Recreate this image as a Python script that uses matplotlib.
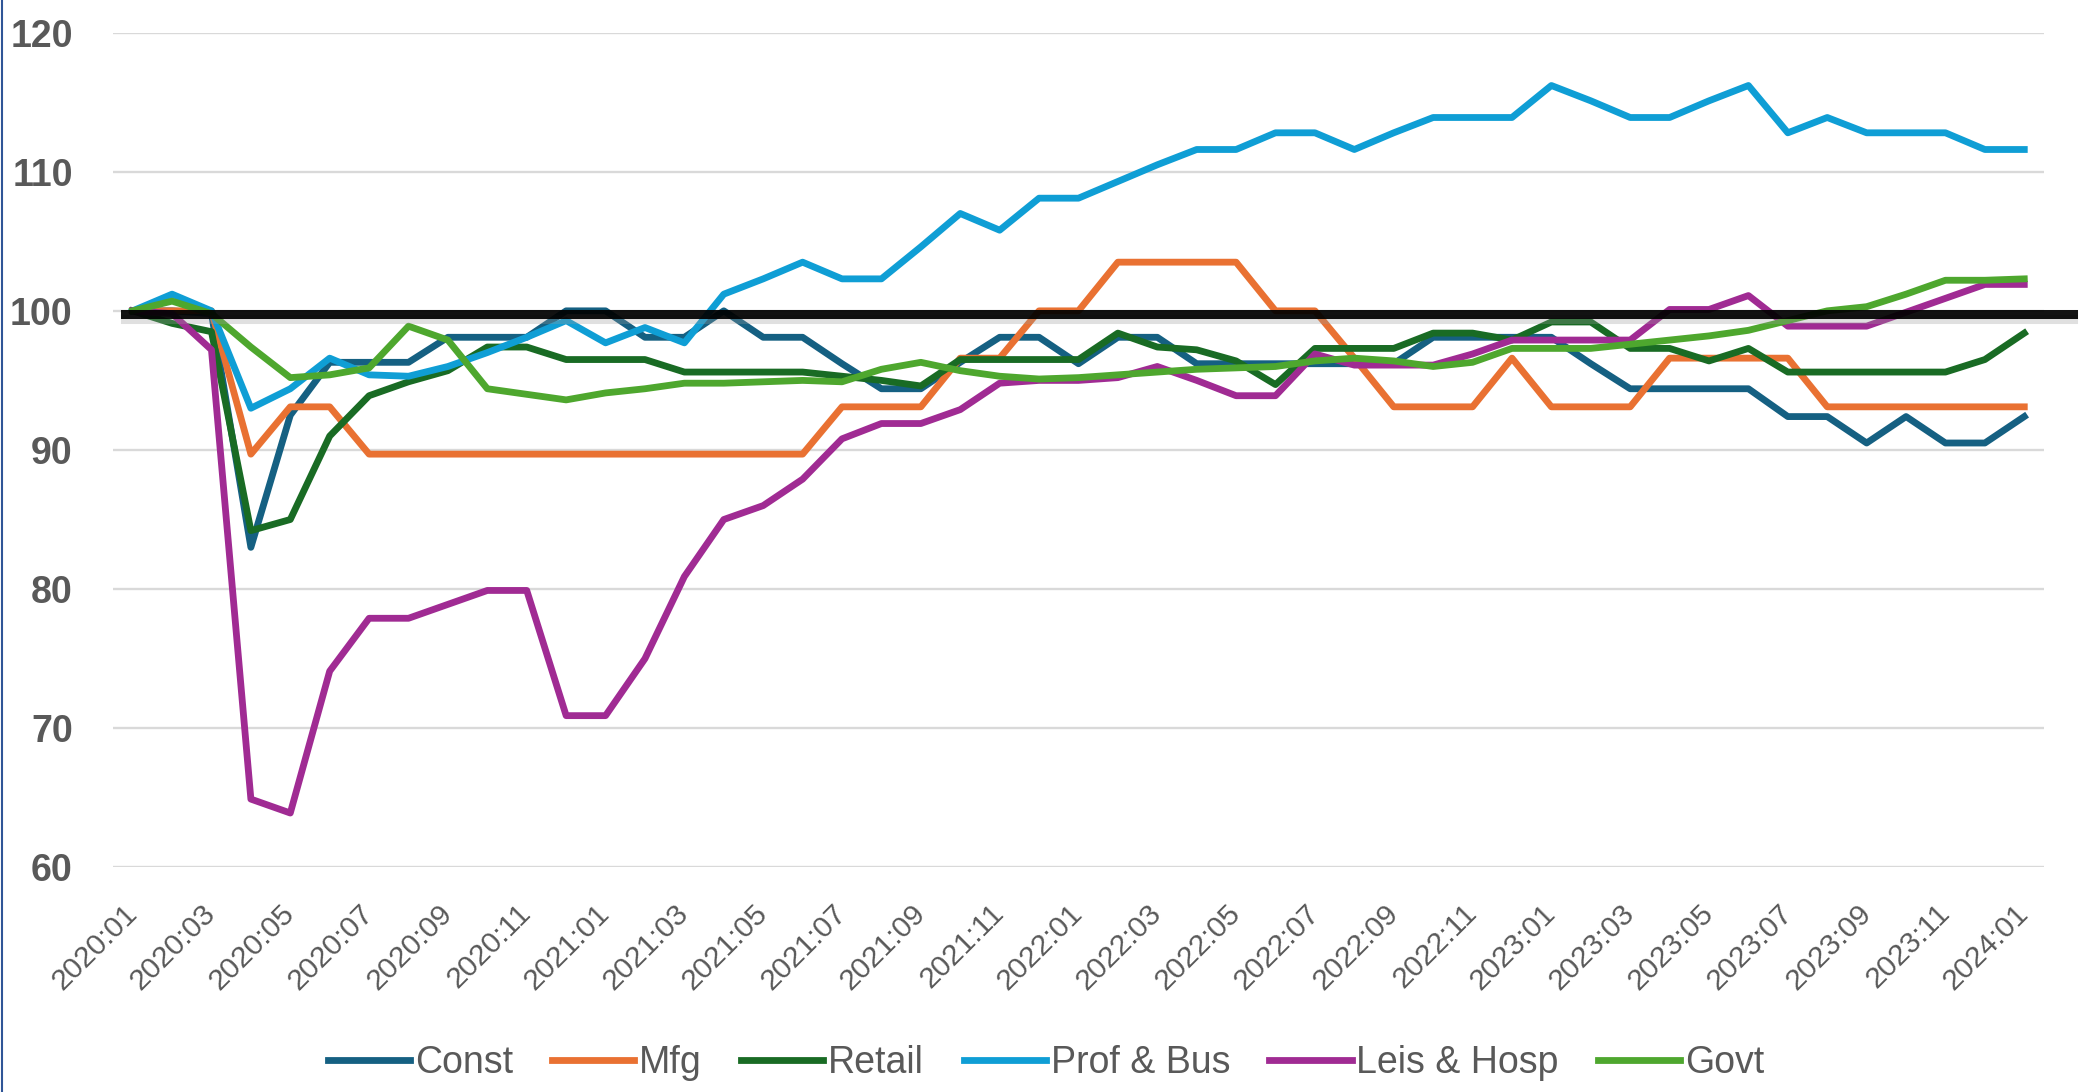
import matplotlib.pyplot as plt
import matplotlib.patheffects as pe
from matplotlib.lines import Line2D

plt.rcParams['font.family'] = ['Liberation Sans', 'DejaVu Sans']

# monthly categories 2020:01 .. 2024:01
months = [f"{y}:{m:02d}" for y in range(2020, 2025) for m in range(1, 13)][:49]

const = [100.0, 100.0, 99.8, 83.0, 92.5, 96.3, 96.3, 96.3, 98.1, 98.1,
         98.1, 100.0, 100.0, 98.1, 98.1, 100.0, 98.1, 98.1, 96.2, 94.4,
         94.4, 96.3, 98.1, 98.1, 96.2, 98.1, 98.1, 96.2, 96.2, 96.2,
         96.2, 96.2, 96.2, 98.1, 98.1, 98.1, 98.1, 96.2, 94.4, 94.4,
         94.4, 94.4, 92.4, 92.4, 90.5, 92.4, 90.5, 90.5, 92.4]
mfg = [100.0, 100.0, 100.0, 89.7, 93.1, 93.1, 89.7, 89.7, 89.7, 89.7,
       89.7, 89.7, 89.7, 89.7, 89.7, 89.7, 89.7, 89.7, 93.1, 93.1,
       93.1, 96.6, 96.6, 100.0, 100.0, 103.5, 103.5, 103.5, 103.5, 100.0,
       100.0, 96.6, 93.1, 93.1, 93.1, 96.6, 93.1, 93.1, 93.1, 96.6,
       96.6, 96.6, 96.6, 93.1, 93.1, 93.1, 93.1, 93.1, 93.1]
retail = [100.0, 99.1, 98.5, 84.2, 85.0, 91.0, 93.9, 94.9, 95.7, 97.4,
          97.4, 96.5, 96.5, 96.5, 95.6, 95.6, 95.6, 95.6, 95.3, 95.0,
          94.6, 96.5, 96.5, 96.5, 96.5, 98.4, 97.4, 97.2, 96.4, 94.7,
          97.3, 97.3, 97.3, 98.4, 98.4, 97.9, 99.2, 99.2, 97.3, 97.3,
          96.4, 97.3, 95.6, 95.6, 95.6, 95.6, 95.6, 96.5, 98.4]
prof_bus = [100.0, 101.2, 100.0, 93.0, 94.4, 96.6, 95.4, 95.3, 96.0, 97.0,
            98.1, 99.3, 97.7, 98.8, 97.7, 101.2, 102.3, 103.5, 102.3, 102.3,
            104.6, 107.0, 105.8, 108.1, 108.1, 109.3, 110.5, 111.6, 111.6, 112.8,
            112.8, 111.6, 112.8, 113.9, 113.9, 113.9, 116.2, 115.1, 113.9, 113.9,
            115.1, 116.2, 112.8, 113.9, 112.8, 112.8, 112.8, 111.6, 111.6]
leis_hosp = [100.0, 99.8, 97.2, 64.9, 63.9, 74.1, 77.9, 77.9, 78.9, 79.9,
             79.9, 70.9, 70.9, 75.0, 80.9, 85.0, 86.0, 87.9, 90.8, 91.9,
             91.9, 92.9, 94.8, 95.0, 95.0, 95.2, 96.0, 95.0, 93.9, 93.9,
             96.9, 96.1, 96.1, 96.1, 96.9, 97.9, 97.9, 97.9, 97.9, 100.1,
             100.1, 101.1, 98.9, 98.9, 98.9, 99.9, 100.9, 101.9, 101.9]
govt = [100.0, 100.7, 99.8, 97.4, 95.2, 95.4, 95.9, 98.9, 97.9, 94.4,
        94.0, 93.6, 94.1, 94.4, 94.8, 94.8, 94.9, 95.0, 94.9, 95.8,
        96.3, 95.7, 95.3, 95.1, 95.2, 95.4, 95.6, 95.8, 95.9, 96.0,
        96.4, 96.6, 96.4, 96.0, 96.3, 97.3, 97.3, 97.3, 97.6, 97.9,
        98.2, 98.6, 99.3, 100.0, 100.3, 101.2, 102.2, 102.2, 102.3]

series_names = ["Const", "Mfg", "Retail", "Prof & Bus", "Leis & Hosp", "Govt"]
series_values = [const, mfg, retail, prof_bus, leis_hosp, govt]
colors = ["#156082", "#E97132", "#196B24", "#0F9ED5", "#A02B93", "#4EA72E"]
ref_level = 99.75

fig = plt.figure(figsize=(20.84, 10.92), dpi=100)
ax = fig.add_axes([0.0542, 0.2058, 0.9266, 0.7643])

x = list(range(len(months)))
for name, vals, col in zip(series_names, series_values, colors):
    ax.plot(x, vals, color=col, lw=4.9, label=name)

# thick black reference line drawn over the series
ax.axhline(ref_level, xmin=0.006, xmax=1.015, color="black", lw=6.5, alpha=0.93,
           clip_on=False, zorder=5,
           path_effects=[pe.SimpleLineShadow(offset=(0, -3), shadow_color="#999999", alpha=0.3),
                         pe.Normal()])

ax.set_xlim(-0.5, len(months) - 0.5)
ax.set_ylim(60, 120)
ax.set_yticks(range(60, 121, 10))
ax.grid(axis="y", color="#D9D9D9", lw=1.7)
ax.set_axisbelow(True)
for s in ax.spines.values():
    s.set_visible(False)

ax.set_xticks(x[::2])
ax.set_xticklabels(months[::2], rotation=45, ha="right", va="center",
                   rotation_mode="anchor", fontsize=21.5, color="#595959")
ax.tick_params(axis="x", length=0, pad=30)
ax.tick_params(axis="y", length=0, pad=29, labelsize=27, labelcolor="#595959")
for t in ax.get_yticklabels():
    t.set_fontweight("bold")

fig.legend(loc="center", bbox_to_anchor=(0.502, 0.0266), ncol=6, frameon=False,
           fontsize=27, handlelength=2.19, handletextpad=0.13, columnspacing=1.05,
           labelcolor="#595959")

# thin blue border on the left edge of the picture
fig.add_artist(Line2D([0.0008, 0.0008], [0, 1], transform=fig.transFigure,
                      color="#2F5597", lw=1.5))

fig.savefig("out.png", dpi=100)
